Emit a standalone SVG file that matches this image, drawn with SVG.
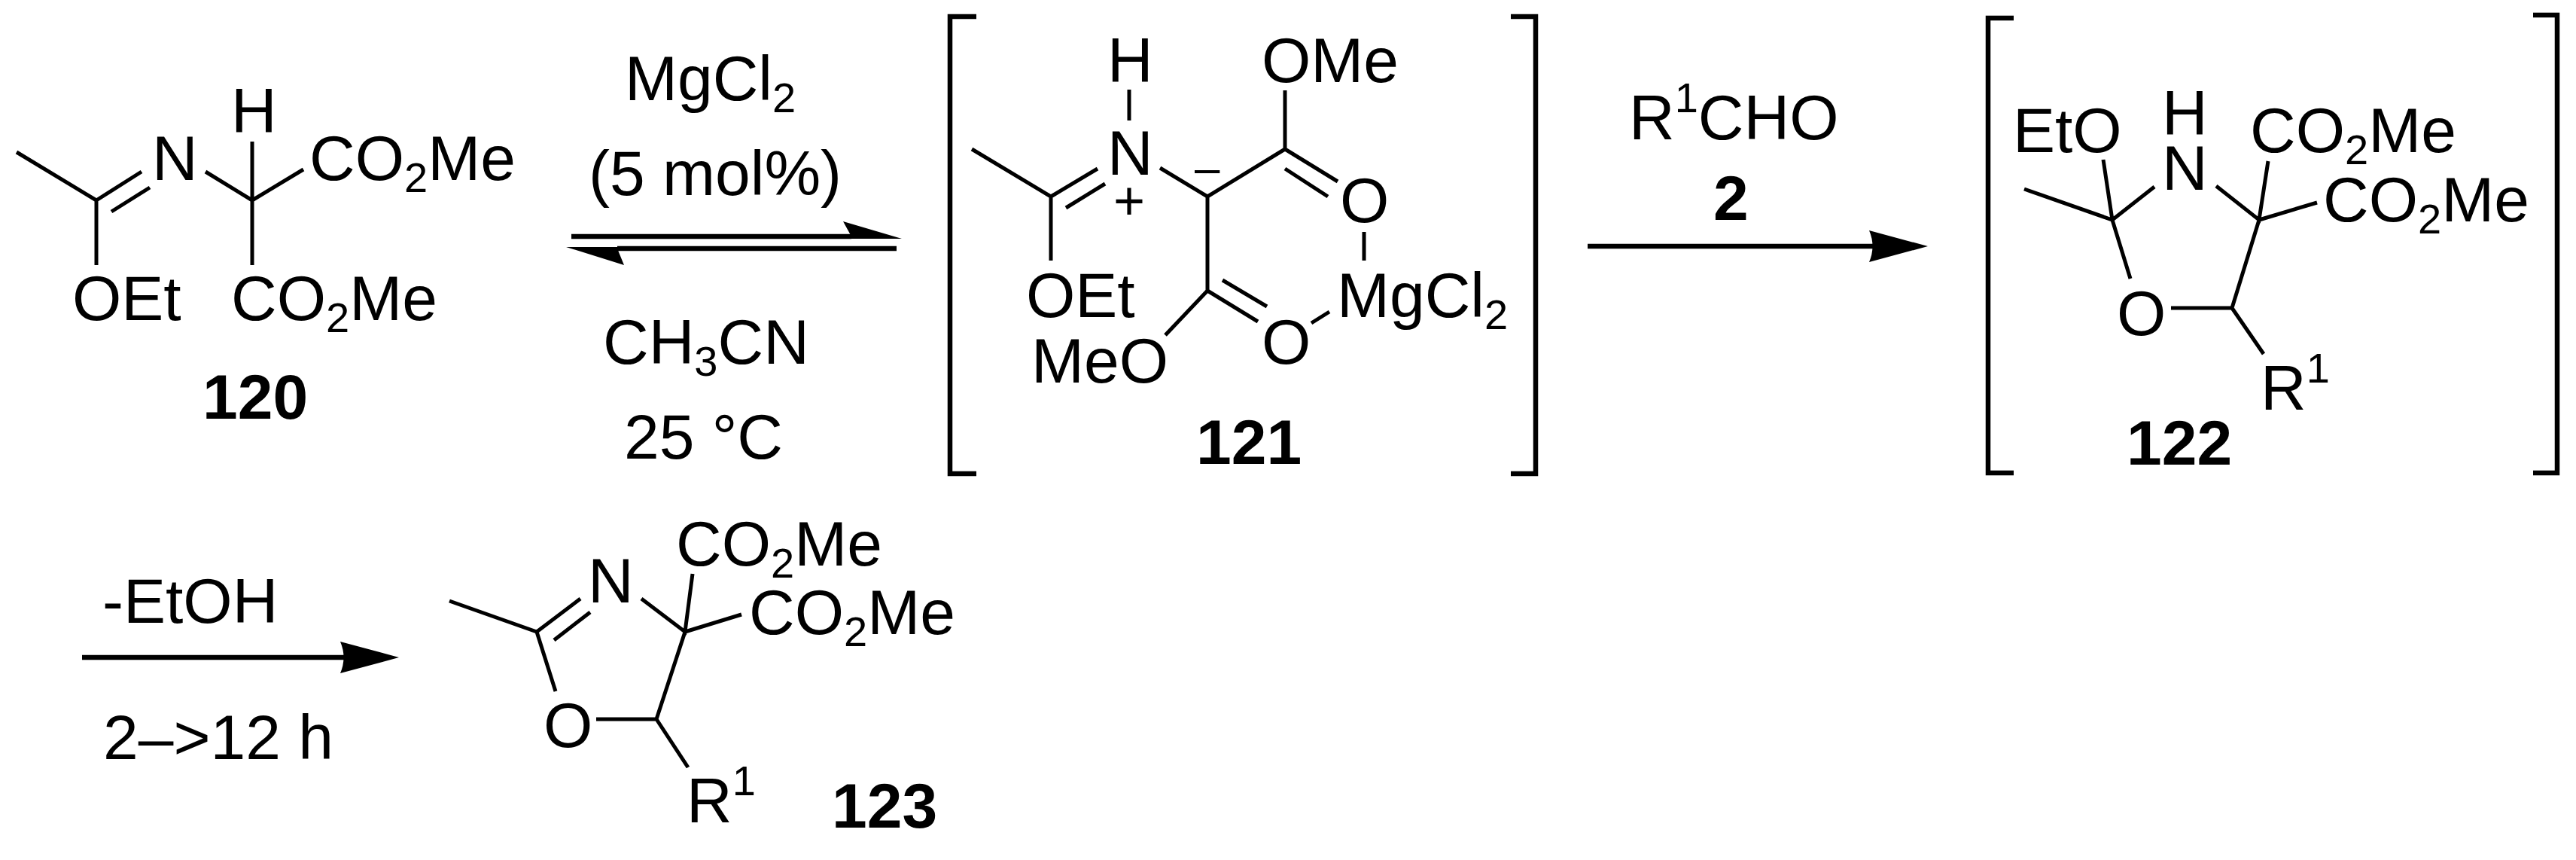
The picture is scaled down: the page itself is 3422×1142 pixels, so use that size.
<svg xmlns="http://www.w3.org/2000/svg" width="3422" height="1142" viewBox="0 0 3422 1142">
<style>
text{font-family:"Liberation Sans",Arial,sans-serif;font-size:84px;fill:#000}
.b{font-weight:bold}
.bond{fill:none;stroke:#000;stroke-width:5;stroke-linecap:butt}
.brk{fill:none;stroke:#000;stroke-width:6.5}
.arw{fill:none;stroke:#000;stroke-width:6.5}
.hd{fill:#000;stroke:none}
.s{font-size:56px}
</style>
<defs>
<marker id="head" markerUnits="userSpaceOnUse" markerWidth="78" markerHeight="42" viewBox="0 0 78 42" refX="9" refY="21" orient="auto">
<path class="hd" d="M0,0 L78,21 L0,42 Q9,21 0,0Z"/>
</marker>
</defs>
<rect width="3422" height="1142" fill="#fff"/>

<g id="compound-120">
<path class="bond" d="M22,202L128,266L128,352M128,266L188,228M148,281L199,249M273,228L335,266L403,225M335,188L335,352"/>
<text x="202" y="239">N</text>
<text x="307" y="176">H</text>
<text x="411" y="239">CO<tspan class="s" dy="16">2</tspan><tspan dy="-16">Me</tspan></text>
<text x="96" y="425">OEt</text>
<text x="307" y="425">CO<tspan class="s" dy="16">2</tspan><tspan dy="-16">Me</tspan></text>
<text class="b" x="269" y="556">120</text>
</g>

<g id="conditions-1">
<text x="830" y="133">Mg<tspan>Cl</tspan><tspan class="s" dy="16">2</tspan></text>
<text x="782" y="259">(5 mol%)</text>
<text x="801" y="483">CH<tspan class="s" dy="16">3</tspan><tspan dy="-16">CN</tspan></text>
<text x="829" y="609">25 °C</text>
</g>

<g id="compound-121">
<path class="brk" d="M1297,22H1262V629H1297M2007,22H2040V629H2007"/>
<path class="bond" d="M1291,198L1396,261L1396,346M1396,261L1458,224M1416,276L1468,244M1500,119V160M1541,223L1604,261L1707,198V120M1707,198L1777,241M1707,224L1764,261M1812,308V346M1604,261V386L1671,427M1624,372L1683,407M1604,386L1548,445M1742,429L1766,414"/>
<text x="1471" y="109">H</text>
<text x="1471" y="232">N</text>
<text style="font-size:72px" x="1479" y="291">+</text>
<text style="font-size:60px" x="1587" y="243">–</text>
<text x="1676" y="109">OMe</text>
<text x="1780" y="295">O</text>
<text x="1776" y="421">MgCl<tspan class="s" dy="16">2</tspan></text>
<text x="1363" y="421">OEt</text>
<text x="1370" y="508">MeO</text>
<text x="1676" y="483">O</text>
<text class="b" x="1589" y="616">121</text>
</g>

<g id="conditions-2">
<text x="2164" y="185">R<tspan class="s" dy="-36">1</tspan><tspan dy="36">CHO</tspan></text>
<text class="b" x="2276" y="292">2</text>
</g>

<g id="compound-122">
<path class="brk" d="M2675,24H2641V628H2675M3365,20H3397V628H3365"/>
<path class="bond" d="M2689,251L2806,292L2794,212M2806,292L2862,248M2806,292L2830,370M2944,247L3001,292L3013,214M3001,292L3078,269M3001,292L2965,409H2884M2965,409L3007,470"/>
<text x="2674" y="202">EtO</text>
<text x="2872" y="179">H</text>
<text x="2872" y="252">N</text>
<text x="2989" y="202">CO<tspan class="s" dy="16">2</tspan><tspan dy="-16">Me</tspan></text>
<text x="3086" y="294">CO<tspan class="s" dy="16">2</tspan><tspan dy="-16">Me</tspan></text>
<text x="2812" y="445">O</text>
<text x="3003" y="544">R<tspan class="s" dy="-36">1</tspan></text>
<text class="b" x="2825" y="617">122</text>
</g>

<g id="conditions-3">
<text x="136" y="827">-EtOH</text>
<text x="137" y="1008">2–&gt;12 h</text>
</g>

<g id="compound-123">
<path class="bond" d="M597,798L713,839L771,795M736,850L784,813M713,839L738,918M852,795L910,839L920,762M910,839L985,816M910,839L872,955H792M872,955L914,1019"/>
<text x="781" y="800">N</text>
<text x="898" y="751">CO<tspan class="s" dy="16">2</tspan><tspan dy="-16">Me</tspan></text>
<text x="995" y="842">CO<tspan class="s" dy="16">2</tspan><tspan dy="-16">Me</tspan></text>
<text x="722" y="992">O</text>
<text x="912" y="1092">R<tspan class="s" dy="-36">1</tspan></text>
<text class="b" x="1105" y="1099">123</text>
</g>

<g id="connectors">
<path class="arw" d="M759,314H1131M1191,330H820"/>
<polygon class="hd" points="1198,317 1120,294 1131,314 1131,317"/>
<polygon class="hd" points="752,328 829,352 820,330 820,328"/>
<path class="arw" d="M2109,327H2492" marker-end="url(#head)"/>
<path class="arw" d="M109,873H461" marker-end="url(#head)"/>
</g>
</svg>
